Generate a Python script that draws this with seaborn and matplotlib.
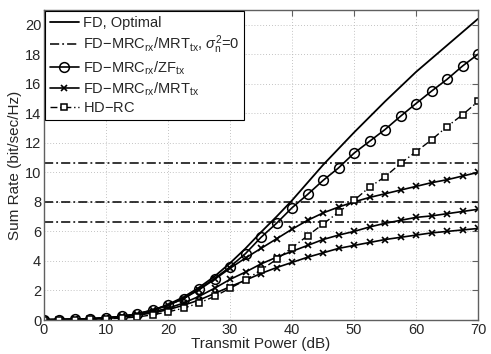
import numpy as np
import pandas as pd
import seaborn as sns
import matplotlib.pyplot as plt

# transmit power (dB), markers every 2.5 dB
power_db = [0, 2.5, 5, 7.5, 10, 12.5, 15, 17.5, 20, 22.5, 25, 27.5, 30, 32.5, 35,
            37.5, 40, 42.5, 45, 47.5, 50, 52.5, 55, 57.5, 60, 62.5, 65, 67.5, 70]

fd_optimal = [0.02, 0.03, 0.05, 0.08, 0.14, 0.24, 0.4, 0.65, 1.05, 1.55, 2.2, 2.95, 3.85, 4.85, 5.95,
              7.0, 8.1, 9.3, 10.5, 11.6, 12.7, 13.75, 14.8, 15.8, 16.8, 17.7, 18.6, 19.5, 20.4]
fd_zf = [0.02, 0.03, 0.05, 0.08, 0.14, 0.24, 0.42, 0.68, 1.0, 1.45, 2.1, 2.8, 3.6, 4.5, 5.6,
         6.55, 7.6, 8.5, 9.45, 10.3, 11.3, 12.1, 12.9, 13.8, 14.66, 15.5, 16.3, 17.2, 18.0]
fd_mrt_a = [0.02, 0.03, 0.05, 0.08, 0.14, 0.24, 0.4, 0.65, 1.0, 1.45, 2.05, 2.75, 3.5, 4.2, 4.85,
            5.5, 6.15, 6.75, 7.25, 7.65, 8.0, 8.3, 8.55, 8.8, 9.05, 9.3, 9.5, 9.75, 10.0]
fd_mrt_b = [0.02, 0.03, 0.05, 0.08, 0.13, 0.22, 0.36, 0.55, 0.8, 1.15, 1.6, 2.15, 2.75, 3.25, 3.8,
            4.25, 4.65, 5.05, 5.45, 5.75, 6.0, 6.3, 6.55, 6.75, 6.95, 7.05, 7.2, 7.35, 7.5]
fd_mrt_c = [0.02, 0.03, 0.05, 0.08, 0.12, 0.2, 0.32, 0.48, 0.7, 1.0, 1.35, 1.8, 2.25, 2.7, 3.15,
            3.55, 3.9, 4.25, 4.55, 4.85, 5.05, 5.25, 5.45, 5.6, 5.75, 5.9, 6.0, 6.1, 6.2]
hd_rc = [0.01, 0.02, 0.03, 0.05, 0.08, 0.13, 0.2, 0.35, 0.55, 0.8, 1.15, 1.6, 2.15, 2.7, 3.4,
         4.1, 4.9, 5.7, 6.5, 7.3, 8.1, 9.0, 9.7, 10.6, 11.4, 12.2, 13.1, 13.9, 14.8]
# noiseless (sigma_n^2 = 0) rate ceilings
sigma0_rates = [10.63, 8.0, 6.65]

labels = ['FD, Optimal',
          r'FD$-$MRC$_{\rm rx}$/MRT$_{\rm tx}$, $\sigma^2_{\rm n}$=0',
          r'FD$-$MRC$_{\rm rx}$/ZF$_{\rm tx}$',
          r'FD$-$MRC$_{\rm rx}$/MRT$_{\rm tx}$',
          'HD$-$RC']

sns.set_style('white')
plt.rcParams['font.family'] = ['Liberation Sans', 'DejaVu Sans']
plt.rcParams['mathtext.fontset'] = 'custom'
plt.rcParams['mathtext.rm'] = 'Liberation Sans'
plt.rcParams['mathtext.it'] = 'Liberation Sans:italic'

df = pd.DataFrame({'power': power_db, 'opt': fd_optimal, 'zf': fd_zf,
                   'a': fd_mrt_a, 'b': fd_mrt_b, 'c': fd_mrt_c, 'hd': hd_rc})

fig = plt.figure(figsize=(4.91, 3.54), dpi=100)
ax = fig.add_axes([0.0896, 0.096, 0.884, 0.876])

sns.lineplot(data=df, x='power', y='opt', color='black', lw=1.3, ax=ax, label=labels[0])
for i, v in enumerate(sigma0_rates):
    ax.axhline(v, color='black', lw=1.1, dashes=(6, 2, 1.2, 2),
               label=labels[1] if i == 0 else None)
sns.lineplot(data=df, x='power', y='zf', color='black', lw=1.2, marker='o', markersize=7,
             markerfacecolor='none', markeredgecolor='black', markeredgewidth=1.1,
             ax=ax, label=labels[2])
for i, col in enumerate(['a', 'b', 'c']):
    sns.lineplot(data=df, x='power', y=col, color='black', lw=1.2, marker='x', markersize=5,
                 markeredgecolor='black', markeredgewidth=1.2, ax=ax,
                 label=labels[3] if i == 0 else None)
sns.lineplot(data=df, x='power', y='hd', color='black', lw=1.0, marker='s', markersize=4,
             markerfacecolor='white', markeredgecolor='black', markeredgewidth=1.1,
             dashes=(5, 2, 1, 2), ax=ax, label=labels[4])

ax.set_xlim(0, 70)
ax.set_ylim(0, 21)
ax.set_xticks(np.arange(0, 71, 10))
ax.set_yticks(np.arange(0, 21, 2))
ax.grid(True, color='#b0b0b0', linestyle=(0, (1, 2.5)), lw=0.6)
ax.tick_params(direction='in', top=True, right=True, length=4, labelsize=10.5, pad=2,
               color='#606060')
for s in ax.spines.values():
    s.set_color('#606060')
    s.set_linewidth(1.0)
ax.set_xlabel('Transmit Power (dB)', fontsize=11, labelpad=0)
ax.set_ylabel('Sum Rate (bit/sec/Hz)', fontsize=11, labelpad=2)

leg = ax.legend(loc='upper left', fontsize=10.5, handlelength=2.0, handletextpad=0.3,
                borderpad=0.3, labelspacing=0.24, borderaxespad=0.1, fancybox=False,
                framealpha=1)
leg.get_frame().set_edgecolor('black')
leg.get_frame().set_linewidth(0.8)

fig.savefig('out.png', dpi=100)
